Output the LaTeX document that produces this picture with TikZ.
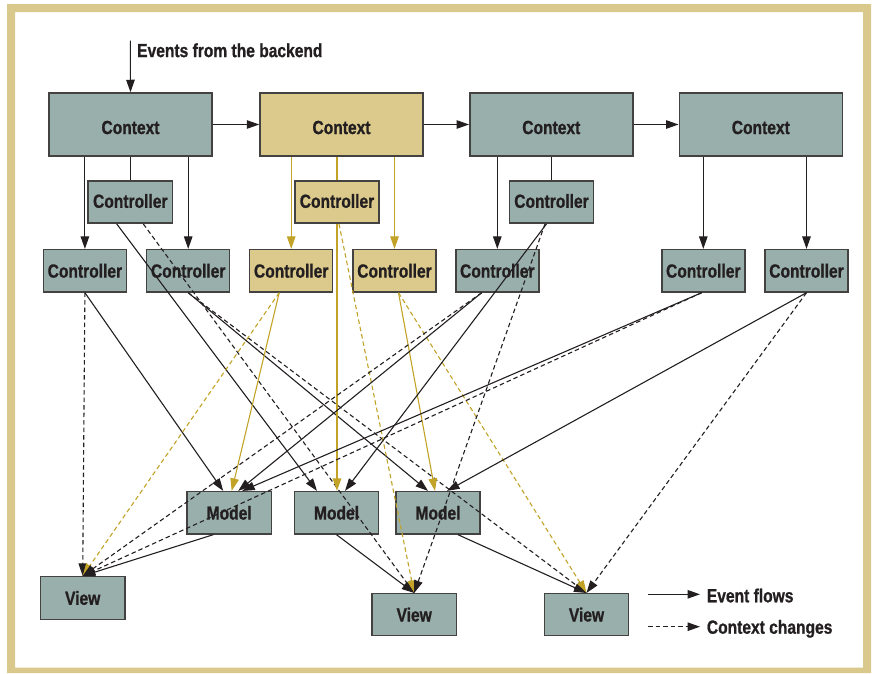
\documentclass[tikz,border=0pt]{standalone}
\usepackage{fontspec}
\setmainfont{Liberation Sans}
\newfontfamily\lblfont{Liberation Sans}[FakeStretch=0.82,FakeBold=0.9]
\usetikzlibrary{arrows.meta,calc}
\definecolor{boxgray}{RGB}{153,175,171}
\definecolor{boxtan}{RGB}{219,202,140}
\definecolor{frametan}{RGB}{218,201,140}
\definecolor{linetan}{RGB}{194,163,40}
\definecolor{ink}{RGB}{35,31,32}
\begin{document}
\begin{tikzpicture}[x=1pt,y=-1pt,
  box/.style={draw=ink!85, line width=1.5pt, inner sep=0pt, fill=boxgray},
  tanbox/.style={box, fill=boxtan},
  ctx/.style={minimum width=163pt, minimum height=63pt},
  ctl/.style={minimum width=83pt, minimum height=42.3pt},
  lbl/.style={font=\lblfont\bfseries\fontsize{19}{20}\selectfont, text=ink, inner sep=0pt},
  flow/.style={draw=ink, line width=1.1pt, -{Triangle[length=12.5pt,width=8.5pt]}},
  chg/.style={flow, dash pattern=on 4.5pt off 3pt},
  tflow/.style={flow, draw=linetan, color=linetan},
  tchg/.style={tflow, dash pattern=on 4.5pt off 3pt},
  link/.style={draw=ink, line width=1.1pt},
  tlink/.style={draw=linetan, line width=1.1pt},
]
\useasboundingbox (0,0) rectangle (872,673);
\fill[frametan, even odd rule] (7,4) rectangle (871,673) (15,12) rectangle (863,667.5);

% boxes
\node[box,ctx] (X1) at (130.5,124.5) {};
\node[tanbox,ctx] (X2) at (341.5,124.5) {};
\node[box,ctx] (X3) at (551.3,124.5) {};
\node[box,ctx] (X4) at (760.8,124.5) {};

\node[box,ctl,minimum width=84.4pt] (C1) at (130.3,202) {};
\node[tanbox,ctl,minimum width=84.4pt] (C2) at (337,202) {};
\node[box,ctl,minimum width=84.4pt] (C3) at (551.5,202) {};

\node[box,ctl] (L1) at (84.9,270.8) {};
\node[box,ctl] (L2) at (188.2,270.8) {};
\node[tanbox,ctl] (L3) at (291.2,270.8) {};
\node[tanbox,ctl] (L4) at (394.5,270.8) {};
\node[box,ctl] (L5) at (497.3,270.8) {};
\node[box,ctl] (L6) at (703.3,270.8) {};
\node[box,ctl] (L7) at (806.5,270.8) {};

\node[box,ctl,minimum width=84.4pt] (M1) at (229.2,512.8) {};
\node[box,ctl,minimum width=84.4pt] (M2) at (336.5,512.8) {};
\node[box,ctl,minimum width=84.4pt] (M3) at (438,512.8) {};

\node[box,ctl,minimum width=84.7pt,minimum height=42.6pt] (V1) at (82.7,598) {};
\node[box,ctl,minimum width=84.3pt,minimum height=42pt] (V2) at (414.2,614.7) {};
\node[box,ctl,minimum width=84.3pt,minimum height=42pt] (V3) at (586.5,614.7) {};

% events from the backend
\coordinate (evtop) at (130.3,40.7);
\draw[flow] (evtop) -- (X1.north);

% context chain
\draw[flow] (X1.east) -- (X2.west);
\draw[flow] (X2.east) -- (X3.west);
\draw[flow] (X3.east) -- (X4.west);

% context to controllers
\draw[flow] (L1.north |- X1.south) -- (L1.north);
\draw[flow] (L2.north |- X1.south) -- (L2.north);
\draw[link] (C1.north |- X1.south) -- (C1.north);
\draw[tflow] (L3.north |- X2.south) -- (L3.north);
\draw[tflow] (L4.north |- X2.south) -- (L4.north);
\draw[tlink] (C2.north |- X2.south) -- (C2.north);
\draw[flow] (L5.north |- X3.south) -- (L5.north);
\draw[link] (C3.north |- X3.south) -- (C3.north);
\draw[flow] (L6.north |- X4.south) -- (L6.north);
\draw[flow] (L7.north |- X4.south) -- (L7.north);

% controllers to models (solid) and views (dashed)
\draw[flow] (L1.south) -- ($(M1.north)+(-6,0)$);
\draw[chg]  (L1.south) -- (V1.north);
\draw[flow] ($(C1.south)+(-13.6,0)$) -- ($(M2.north)+(-19.5,0)$);
\draw[chg]  ($(C1.south)+(13,0)$) -- (V2.north);
\draw[flow] (L2.south) -- ($(M3.north)+(-10,0)$);
\draw[chg]  (L2.south) -- (V3.north);
\draw[tflow] ($(L3.south)+(-12,0)$) -- ($(M1.north)+(2.5,0)$);
\draw[tchg]  ($(L3.south)+(-12,0)$) -- (V1.north);
\draw[tflow] (C2.south) -- (C2.south |- M2.north);
\draw[tchg]  ($(C2.south)+(2,0)$) -- (V2.north);
\draw[tflow] ($(L4.south)+(4,0)$) -- ($(M3.north)+(-3,0)$);
\draw[tchg]  ($(L4.south)+(4,0)$) -- (V3.north);
\draw[flow] ($(C3.south)+(-5,0)$) -- ($(M2.north)+(8.5,0)$);
\draw[chg]  ($(C3.south)+(-6.5,0)$) -- (V2.north);
\draw[flow] ($(L5.south)+(-15.6,0)$) -- ($(M1.north)+(9,0)$);
\draw[chg]  ($(L5.south)+(-15.6,0)$) -- (V1.north);
\draw[flow] ($(L6.south)+(-1.6,0)$) -- ($(M1.north)+(13,0)$);
\draw[chg]  ($(L6.south)+(-1.6,0)$) -- (V1.north);
\draw[flow] (L7.south) -- ($(M3.north)+(9,0)$);
\draw[chg]  (L7.south) -- (V3.north);

% models to views
\draw[flow] ($(M1.south)+(-16,0)$) -- (V1.north);
\draw[flow] (M2.south) -- (V2.north);
\draw[flow] ($(M3.south)+(20,0)$) -- (V3.north);

% labels
\node[lbl,anchor=west] (evt) at (137,50.3) {Events from the backend};
\node[lbl] (X1t) at ($(X1)+(0,3)$) {Context};
\node[lbl] (X2t) at ($(X2)+(0,3)$) {Context};
\node[lbl] (X3t) at ($(X3)+(0,3)$) {Context};
\node[lbl] (X4t) at ($(X4)+(0,3)$) {Context};
\node[lbl] (C1t) at ($(C1)+(0,-1)$) {Controller};
\node[lbl] (C2t) at ($(C2)+(0,-1)$) {Controller};
\node[lbl] (C3t) at ($(C3)+(0,-1)$) {Controller};
\node[lbl] (L1t) at (L1) {Controller};
\node[lbl] (L2t) at (L2) {Controller};
\node[lbl] (L3t) at (L3) {Controller};
\node[lbl] (L4t) at (L4) {Controller};
\node[lbl] (L5t) at (L5) {Controller};
\node[lbl] (L6t) at (L6) {Controller};
\node[lbl] (L7t) at (L7) {Controller};
\node[lbl] (M1t) at (M1) {Model};
\node[lbl] (M2t) at (M2) {Model};
\node[lbl] (M3t) at (M3) {Model};
\node[lbl] (V1t) at (V1) {View};
\node[lbl] (V2t) at (V2) {View};
\node[lbl] (V3t) at (V3) {View};

% legend
\coordinate (lgA) at (648,594.3);
\coordinate (lgB) at (700,594.3);
\coordinate (lgC) at (648,626.7);
\coordinate (lgD) at (700,626.7);
\draw[flow] (lgA) -- (lgB);
\draw[chg] (lgC) -- (lgD);
\node[lbl,anchor=base west] (lgt1) at (706.7,602.3) {Event flows};
\node[lbl,anchor=base west] (lgt2) at (706.7,633.7) {Context changes};
\end{tikzpicture}
\end{document}
